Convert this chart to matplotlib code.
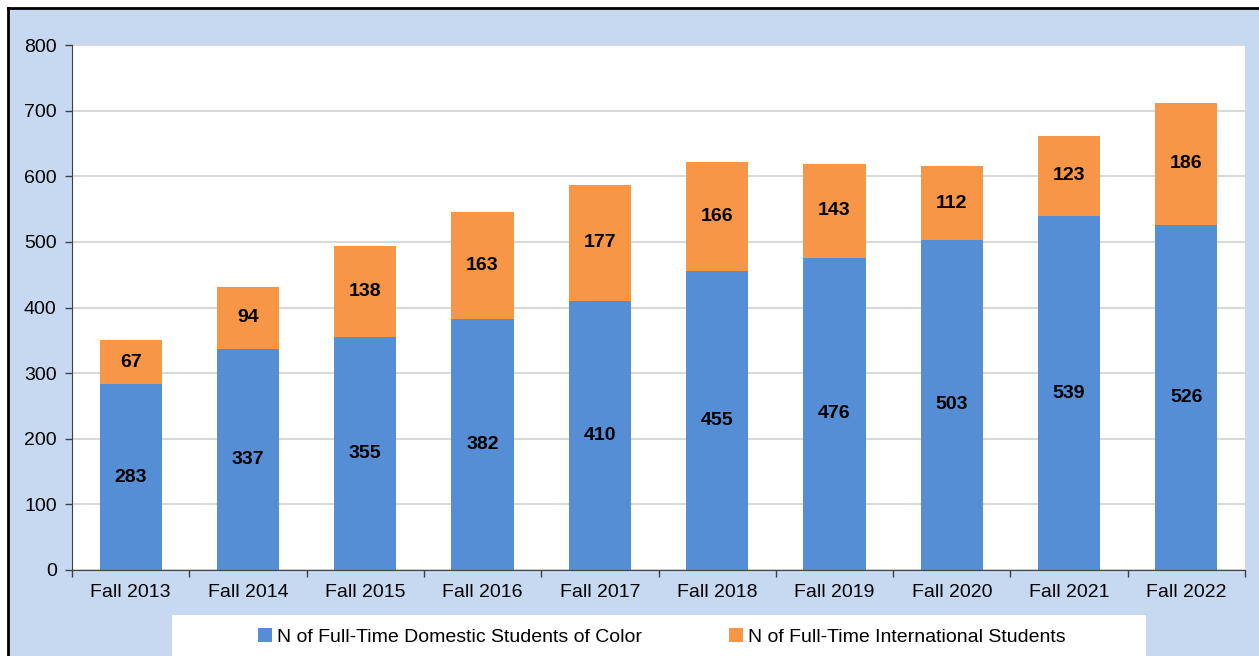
import matplotlib
matplotlib.use("Agg")
import matplotlib.pyplot as plt
from matplotlib.patches import Rectangle
from matplotlib.lines import Line2D

categories = ["Fall 2013", "Fall 2014", "Fall 2015", "Fall 2016", "Fall 2017",
              "Fall 2018", "Fall 2019", "Fall 2020", "Fall 2021", "Fall 2022"]
domestic = [283, 337, 355, 382, 410, 455, 476, 503, 539, 526]
international = [67, 94, 138, 163, 177, 166, 143, 112, 123, 186]
series_names = ["N of Full-Time Domestic Students of Color",
                "N of Full-Time International Students"]
y_ticks = [0, 100, 200, 300, 400, 500, 600, 700, 800]

plt.rcParams['font.family'] = ['Liberation Sans', 'DejaVu Sans']

W, H = 1259, 656
fig = plt.figure(figsize=(W / 100, H / 100), dpi=100, facecolor="white")

BLUE_BG = "#C6D9F1"
C_DOM = "#558ED5"
C_INT = "#F79646"
FS = 14

def fx(px):
    return px / W

def fy(py):
    return 1 - py / H

# background panel
fig.patches.append(Rectangle((fx(8), 0), 1 - fx(8), fy(8), transform=fig.transFigure,
                             facecolor=BLUE_BG, edgecolor="none", zorder=-3))
fig.lines.append(Line2D([fx(8), 1], [fy(8), fy(8)], transform=fig.transFigure,
                        color="black", lw=2.0, zorder=-2))
fig.lines.append(Line2D([fx(8), fx(8)], [0, fy(8)], transform=fig.transFigure,
                        color="black", lw=2.0, zorder=-2))
# legend box
fig.patches.append(Rectangle((fx(172), 0), fx(1146) - fx(172), fy(615), transform=fig.transFigure,
                             facecolor="white", edgecolor="none", zorder=-2))

ax = fig.add_axes([fx(72), fy(570), fx(1245) - fx(72), fy(45) - fy(570)])
ax.set_zorder(1)
ax.set_facecolor("white")

x = list(range(len(categories)))
w = 0.53
b1 = ax.bar(x, domestic, width=w, color=C_DOM, label=series_names[0], zorder=2)
b2 = ax.bar(x, international, width=w, bottom=domestic, color=C_INT,
            label=series_names[1], zorder=2)

for i in x:
    ax.text(i, domestic[i] / 2, str(domestic[i]), ha="center", va="center",
            fontsize=FS, fontweight="bold", color="black", zorder=3)
    ax.text(i, domestic[i] + international[i] / 2, str(international[i]), ha="center",
            va="center", fontsize=FS, fontweight="bold", color="black", zorder=3)

ax.set_xlim(-0.5, len(categories) - 0.5)
ax.set_ylim(0, 800)
ax.set_yticks(y_ticks)
ax.tick_params(axis="y", labelsize=FS, length=5, width=1, color="#404040", pad=6)
ax.set_xticks(x)
ax.set_xticklabels(categories)
ax.tick_params(axis="x", which="major", length=0, labelsize=FS, pad=10)
ax.set_xticks([i - 0.5 for i in range(len(categories) + 1)], minor=True)
ax.tick_params(axis="x", which="minor", length=5, width=1, color="#404040")

ax.yaxis.grid(True, color="#D9D9D9", lw=1.5, zorder=0)
ax.set_axisbelow(True)
for s in ["top", "right"]:
    ax.spines[s].set_visible(False)
ax.spines["left"].set_color("#404040")
ax.spines["bottom"].set_color("#404040")

leg = fig.legend(handles=[b1, b2], labels=series_names, loc="center",
                 bbox_to_anchor=(fx(662), fy(637)), ncol=2, frameon=False,
                 fontsize=FS, handlelength=0.7, handleheight=0.7,
                 handletextpad=0.25, columnspacing=4.5)

fig.savefig("out.png", dpi=100, facecolor=fig.get_facecolor())
